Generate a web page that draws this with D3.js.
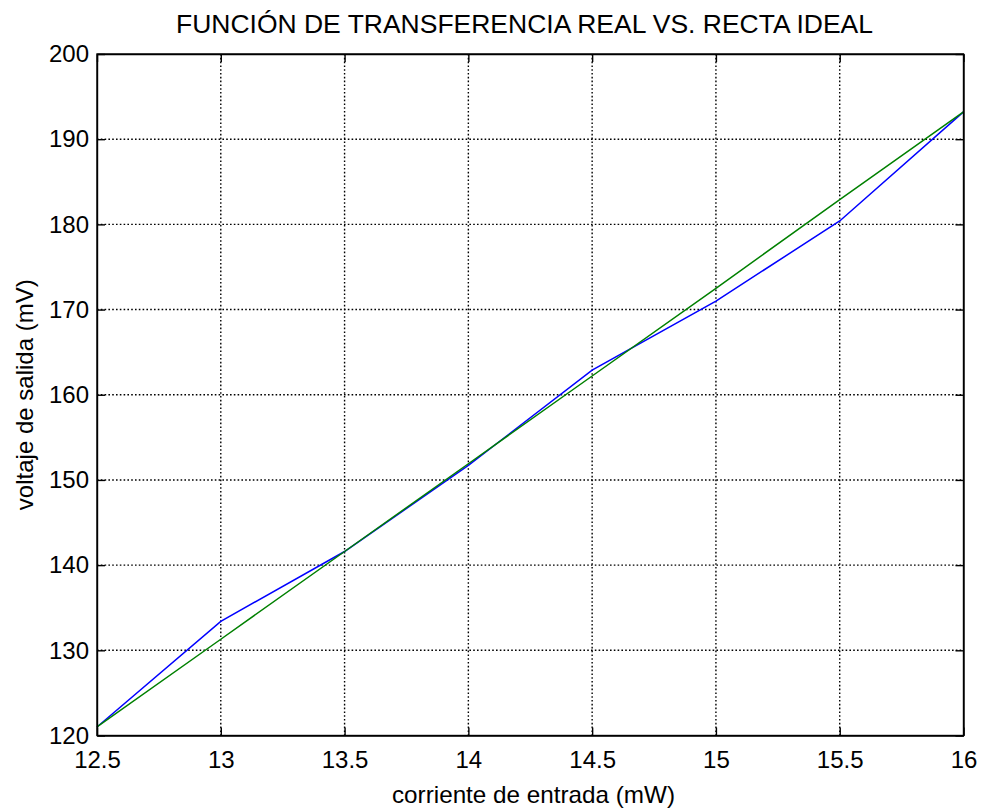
<!DOCTYPE html>
<html>
<head>
<meta charset="utf-8">
<script src="https://cdn.jsdelivr.net/npm/d3@7"></script>
<style>
  html, body { margin: 0; padding: 0; background: #fff; }
  svg { display: block; }
  text { font-family: "Liberation Sans", Arial, sans-serif; fill: #000; }
</style>
</head>
<body>
<script>
// ---- data ----
const corriente = [12.5, 13, 13.5, 14, 14.5, 15, 15.5, 16];
const voltajeReal = [121.0, 133.4, 141.6, 151.7, 162.9, 171.0, 180.4, 193.2];
const rectaIdeal = [121.0, 131.3, 141.6, 151.9, 162.2, 172.5, 182.9, 193.2];
const xTicks = [12.5, 13, 13.5, 14, 14.5, 15, 15.5, 16];
const yTicks = [120, 130, 140, 150, 160, 170, 180, 190, 200];
const titleText = "FUNCIÓN DE TRANSFERENCIA REAL VS. RECTA IDEAL";
const xLabelText = "corriente de entrada (mW)";
const yLabelText = "voltaje de salida (mV)";

const W = 981, H = 811;
const m = { left: 97, right: 981 - 963.5, top: 54, bottom: 811 - 735.5 };
const iw = W - m.left - m.right, ih = H - m.top - m.bottom;

const svg = d3.select("body").append("svg").attr("width", W).attr("height", H);
const g = svg.append("g").attr("transform", `translate(${m.left},${m.top})`);

const x = d3.scaleLinear().domain([12.5, 16]).range([0, iw]);
const y = d3.scaleLinear().domain([120, 200]).range([ih, 0]);

// grid
const grid = g.append("g").attr("stroke", "#000").attr("stroke-width", 1.4)
  .attr("stroke-dasharray", "1.6,2.2");
grid.selectAll("line.vx").data(xTicks.slice(1, -1)).join("line")
  .attr("x1", d => x(d)).attr("x2", d => x(d)).attr("y1", 0).attr("y2", ih);
grid.selectAll("line.hy").data(yTicks.slice(1, -1)).join("line")
  .attr("y1", d => y(d)).attr("y2", d => y(d)).attr("x1", 0).attr("x2", iw);

// lines
const line = (vals) => d3.line().x((d, i) => x(corriente[i])).y(d => y(d))(vals);
g.append("path").attr("d", line(voltajeReal)).attr("fill", "none")
  .attr("stroke", "#0000ff").attr("stroke-width", 1.5);
g.append("path").attr("d", line(rectaIdeal)).attr("fill", "none")
  .attr("stroke", "#008000").attr("stroke-width", 1.5);

// axes (MATLAB-like inward ticks on all sides)
const tl = 8;
const fmt = d => String(d);
const ax = (a) => a.tickSizeOuter(0).tickPadding(10);
const xb = g.append("g").attr("transform", `translate(0,${ih})`)
  .call(ax(d3.axisBottom(x).tickValues(xTicks).tickFormat(fmt).tickSizeInner(-tl)));
const yl = g.append("g")
  .call(ax(d3.axisLeft(y).tickValues(yTicks).tickFormat(fmt).tickSizeInner(-tl)));
const xt = g.append("g")
  .call(d3.axisTop(x).tickValues(xTicks).tickFormat("").tickSizeInner(-tl).tickSizeOuter(0));
const yr = g.append("g").attr("transform", `translate(${iw},0)`)
  .call(d3.axisRight(y).tickValues(yTicks).tickFormat("").tickSizeInner(-tl).tickSizeOuter(0));
[xb, yl, xt, yr].forEach(a => {
  a.select(".domain").attr("stroke", "#000").attr("stroke-width", 1.4);
  a.selectAll(".tick line").attr("stroke", "#000").attr("stroke-width", 1.4);
  a.selectAll(".tick text").attr("font-size", 24).attr("fill", "#000")
    .attr("font-family", "Liberation Sans, Arial, sans-serif");
});
xb.selectAll(".tick text").attr("dy", "0.85em").attr("y", 12);
yl.selectAll(".tick text").attr("x", -8);

// box
g.append("rect").attr("width", iw).attr("height", ih).attr("fill", "none")
  .attr("stroke", "#000").attr("stroke-width", 1.4);

// texts
svg.append("text").attr("x", 524.5).attr("y", 33).attr("text-anchor", "middle")
  .attr("font-size", 26).attr("textLength", 697).attr("lengthAdjust", "spacingAndGlyphs")
  .text(titleText);
svg.append("text").attr("x", 533.5).attr("y", 803).attr("text-anchor", "middle")
  .attr("font-size", 24).attr("textLength", 283).attr("lengthAdjust", "spacingAndGlyphs")
  .text(xLabelText);
svg.append("text").attr("transform", `translate(33,${m.top + ih / 2}) rotate(-90)`)
  .attr("text-anchor", "middle").attr("font-size", 24).text(yLabelText);
</script>
</body>
</html>
